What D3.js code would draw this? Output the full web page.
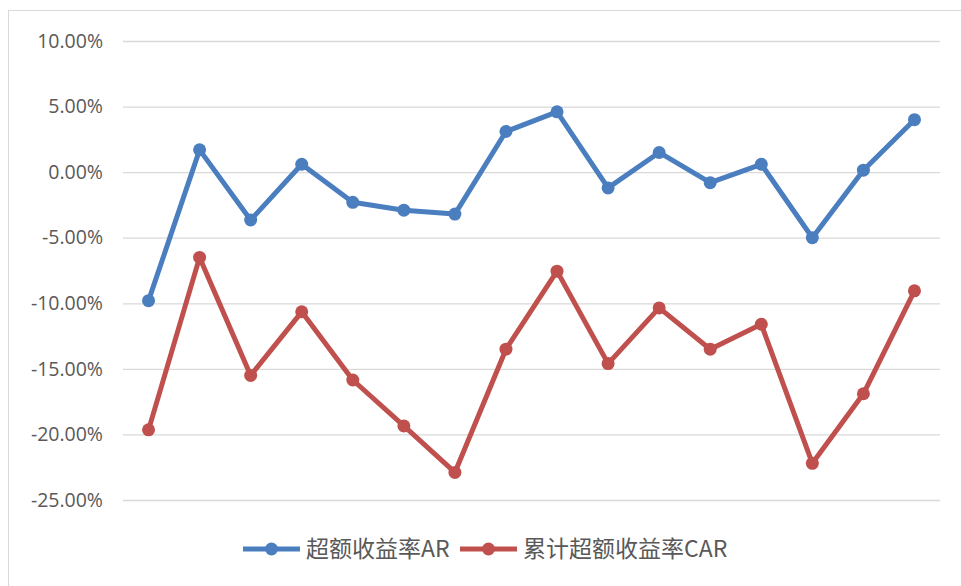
<!DOCTYPE html>
<html>
<head>
<meta charset="utf-8">
<script src="https://cdn.jsdelivr.net/npm/d3@7"></script>
<style>
  body { margin: 0; background: #fff; }
  svg { display: block; }
</style>
</head>
<body>
<svg id="drawing_region"></svg>
<script>
// categories have no labels on the chart, just 16 positions
const categories = d3.range(1, 17);
const arValues = [-9.8, 1.7, -3.65, 0.6, -2.3, -2.9, -3.2, 3.1, 4.6, -1.2, 1.5, -0.8, 0.6, -5.0, 0.15, 4.0];
const carValues = [-19.65, -6.5, -15.5, -10.65, -15.85, -19.35, -22.9, -13.5, -7.55, -14.6, -10.35, -13.5, -11.6, -22.2, -16.9, -9.05];
const yTicks = [10, 5, 0, -5, -10, -15, -20, -25];
const seriesNames = ['超额收益率AR', '累计超额收益率CAR'];
const seriesColors = ['#4a7ebf', '#c0504d'];

const width = 961, height = 586;
const margin = {top: 41, right: 21, bottom: 86, left: 123};

const svg = d3.select('#drawing_region')
    .attr('width', width)
    .attr('height', height);

// outer chart frame
svg.append('rect')
    .attr('x', 8.5).attr('y', 10.5)
    .attr('width', 1200).attr('height', 1200)
    .attr('fill', 'none')
    .attr('stroke', '#d9d9d9');

const inner_width = width - margin.left - margin.right;
const inner_height = height - margin.top - margin.bottom;

const chart = svg.append('g')
    .attr('transform', `translate(${margin.left}, ${margin.top})`);

const xscale = d3.scaleBand()
    .domain(categories)
    .range([0, inner_width]);

const yscale = d3.scaleLinear()
    .domain([-25, 10])
    .range([inner_height, 0]);

// plain hyphen for negatives, like the original
const fmt = d3.formatLocale({decimal: '.', thousands: ',', grouping: [3], currency: ['', ''], minus: '-'}).format('.2f');

const yaxis = d3.axisLeft(yscale)
    .tickValues(yTicks)
    .tickSize(-inner_width)
    .tickPadding(20)
    .tickFormat(d => fmt(d) + '%');

const yaxis_group = chart.append('g').call(yaxis);
yaxis_group.select('.domain').remove();
yaxis_group.selectAll('line')
    .attr('stroke', '#d9d9d9')
    .attr('stroke-width', 1.3);
yaxis_group.selectAll('text')
    .attr('fill', '#595959')
    .style('font-family', '"Open Sans", "Noto Sans", sans-serif')
    .style('font-size', '19.5px');

const cx = d => xscale(d) + xscale.bandwidth() / 2;

const series = [arValues, carValues];
series.forEach((vals, i) => {
    const pts = categories.map((c, j) => ({c: c, v: vals[j]}));
    const line = d3.line()
        .x(d => cx(d.c))
        .y(d => yscale(d.v));
    chart.append('path')
        .datum(pts)
        .attr('fill', 'none')
        .attr('stroke', seriesColors[i])
        .attr('stroke-width', 5)
        .attr('stroke-linejoin', 'round')
        .attr('d', line);
    chart.selectAll('.dot' + i)
        .data(pts)
        .enter()
        .append('circle')
        .attr('cx', d => cx(d.c))
        .attr('cy', d => yscale(d.v))
        .attr('r', 6.5)
        .attr('fill', seriesColors[i]);
});

// legend
const legendY = 549;
const legendItems = [{x: 243, w: 57}, {x: 460, w: 57}];
legendItems.forEach((it, i) => {
    const g = svg.append('g');
    g.append('line')
        .attr('x1', it.x).attr('x2', it.x + it.w)
        .attr('y1', legendY).attr('y2', legendY)
        .attr('stroke', seriesColors[i])
        .attr('stroke-width', 5);
    g.append('circle')
        .attr('cx', it.x + it.w / 2)
        .attr('cy', legendY)
        .attr('r', 6.5)
        .attr('fill', seriesColors[i]);
    g.append('text')
        .attr('x', it.x + it.w + 6)
        .attr('y', legendY)
        .attr('dy', '0.36em')
        .attr('fill', '#595959')
        .style('font-family', '"Noto Sans CJK SC", "Noto Sans", sans-serif')
        .style('font-size', '23px')
        .text(seriesNames[i]);
});
</script>
</body>
</html>
